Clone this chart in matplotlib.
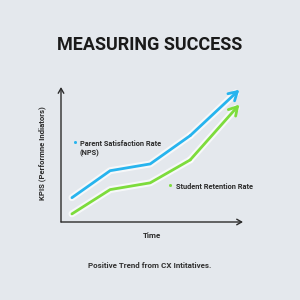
import matplotlib
matplotlib.use("Agg")
import matplotlib.pyplot as plt
from matplotlib import font_manager

# data
time = [0.3, 1.35, 2.45, 3.55, 4.9]
parent_nps = [1.8, 3.8, 4.3, 6.4, 9.8]
student_retention = [0.6, 2.4, 2.9, 4.6, 8.7]

TITLE = "MEASURING SUCCESS"
Y_LABEL = "KPIS (Performne Indiators)"
X_LABEL = "Time"
PARENT_LABEL = "Parent Satisfaction Rate\n(NPS)"
STUDENT_LABEL = "Student Retention Rate"
CAPTION = "Positive Trend from CX Intitatives."

BG = "#e4e8ed"
BLUE = "#27b4ee"
GREEN = "#7ddc3c"
DARK = "#2b2b2b"

installed = {f.name for f in font_manager.fontManager.ttflist}
FONT = "Liberation Sans Narrow" if "Liberation Sans Narrow" in installed else "Roboto"


def draw_series(ax, x, y, color):
    # soft white glow under the line
    ax.plot(x[:-1], y[:-1], color="white", lw=5, alpha=0.7, solid_capstyle="round", zorder=2)
    ax.plot(x[:-1], y[:-1], color=color, lw=2, solid_capstyle="round", zorder=3)
    ax.annotate("", xy=(x[-1], y[-1]), xytext=(x[-2], y[-2]),
                arrowprops=dict(arrowstyle="-|>,head_length=0.01,head_width=0.01", color="white",
                                lw=5, alpha=0.7, shrinkA=0, shrinkB=0), zorder=2)
    ax.annotate("", xy=(x[-1], y[-1]), xytext=(x[-2], y[-2]),
                arrowprops=dict(arrowstyle="->,head_length=0.6,head_width=0.35", color=color,
                                lw=2, shrinkA=0, shrinkB=0), zorder=3)


fig = plt.figure(figsize=(3, 3), dpi=100)
fig.patch.set_facecolor(BG)

ax = fig.add_axes([61 / 300, 78 / 300, 182 / 300, 135 / 300])
ax.set_facecolor("none")
ax.set_xlim(0, 5)
ax.set_ylim(0, 10)
for s in ax.spines.values():
    s.set_visible(False)
ax.set_xticks([])
ax.set_yticks([])

# axis arrows
ax.annotate("", xy=(0, 1), xytext=(0, 0), xycoords="axes fraction",
            arrowprops=dict(arrowstyle="->,head_length=0.35,head_width=0.2", color=DARK, lw=1,
                            shrinkA=0, shrinkB=0))
ax.annotate("", xy=(1, 0), xytext=(0, 0), xycoords="axes fraction",
            arrowprops=dict(arrowstyle="->,head_length=0.35,head_width=0.2", color=DARK, lw=1,
                            shrinkA=0, shrinkB=0))

draw_series(ax, time, parent_nps, BLUE)
draw_series(ax, time, student_retention, GREEN)

fig.text(0.5, 1 - 45 / 300, TITLE, ha="center", va="center", fontsize=13,
         fontweight="bold", family=FONT, color="#1a1a1a")
fig.text(42 / 300, 1 - 153 / 300, Y_LABEL, ha="center", va="center", rotation=90,
         fontsize=5.6, fontweight="bold", family=FONT, color=DARK)
fig.text(152 / 300, 1 - 236 / 300, X_LABEL, ha="center", va="center",
         fontsize=5.8, fontweight="bold", family=FONT, color=DARK)
fig.text(0.5, 1 - 265 / 300, CAPTION, ha="center", va="center",
         fontsize=5.8, fontweight="bold", family=FONT, color="#333333")

fig.text(76 / 300, 1 - 144 / 300, "•", ha="center", va="center", fontsize=11, color=BLUE, family=FONT)
fig.text(80 / 300, 1 - 149 / 300, PARENT_LABEL, ha="left", va="center", fontsize=5.3,
         fontweight="bold", family=FONT, color=DARK, linespacing=1.2)
fig.text(171 / 300, 1 - 187 / 300, "•", ha="center", va="center", fontsize=11, color=GREEN, family=FONT)
fig.text(176 / 300, 1 - 187 / 300, STUDENT_LABEL, ha="left", va="center", fontsize=5.3,
         fontweight="bold", family=FONT, color=DARK)

fig.savefig("out.png", dpi=100, facecolor=BG)
